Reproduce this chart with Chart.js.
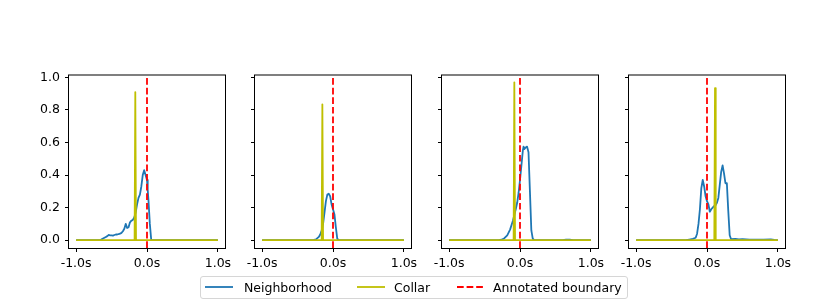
<!DOCTYPE html>
<html>
<head>
<meta charset="utf-8">
<script src="https://cdn.jsdelivr.net/npm/chart.js@4.4.1/dist/chart.umd.min.js"></script>
<style>
  body { margin: 0; background: #fff; width: 830px; height: 305px; position: relative; overflow: hidden; font-family: 'DejaVu Sans', sans-serif; }
  .panel { position: absolute; top: 63px; width: 215px; height: 210px; }
  .legend { position: absolute; left: 200px; top: 276px; width: 428px; height: 23px; border: 1px solid #d6d6d6; border-radius: 3px; box-sizing: border-box; }
  .item { position: absolute; top: 280px; font-size: 12.5px; line-height: 15px; color: #000; white-space: nowrap; }
  .handle { position: absolute; top: 284px; }
</style>
</head>
<body>
<div class="panel" style="left:24px"><canvas id="p0" width="215" height="210"></canvas></div>
<div class="panel" style="left:210px"><canvas id="p1" width="215" height="210"></canvas></div>
<div class="panel" style="left:397px"><canvas id="p2" width="215" height="210"></canvas></div>
<div class="panel" style="left:584px"><canvas id="p3" width="215" height="210"></canvas></div>

<div class="legend"></div>
<svg class="handle" style="left:205px" width="28" height="6"><line x1="0" y1="3" x2="28" y2="3" stroke="#1f77b4" stroke-width="1.8"/></svg>
<span class="item" style="left:244px">Neighborhood</span>
<svg class="handle" style="left:357px" width="28" height="6"><line x1="0" y1="3" x2="28" y2="3" stroke="#bfbf00" stroke-width="1.8"/></svg>
<span class="item" style="left:394px">Collar</span>
<svg class="handle" style="left:457px" width="28" height="6"><line x1="0" y1="3" x2="28" y2="3" stroke="#ff0000" stroke-width="1.8" stroke-dasharray="6.7 2.9"/></svg>
<span class="item" style="left:493px">Annotated boundary</span>

<script>
// axis ticks
const xTicks = [-1, 0, 1];
const xTickLabels = ['-1.0s', '0.0s', '1.0s'];
const yTicks = [0, 0.2, 0.4, 0.6, 0.8, 1.0];
const xMin = -1.1, xMax = 1.1, yMin = -0.048, yMax = 1.012;

// annotated boundary position per panel
const boundaries = [0, 0, 0, 0];

// neighborhood curves
const neighborhood1Times = [-1, -0.66, -0.64, -0.62, -0.60, -0.58, -0.56, -0.54, -0.52, -0.50, -0.48, -0.46, -0.44, -0.42, -0.40, -0.38, -0.36, -0.34, -0.32, -0.30, -0.28, -0.26, -0.24, -0.22, -0.20, -0.18, -0.16, -0.14, -0.12, -0.10, -0.08, -0.06, -0.04, -0.02, 0.00, 0.01, 0.02, 0.04, 0.06, 1];
const neighborhood1Values = [0, 0, 0.005, 0.01, 0.015, 0.02, 0.025, 0.032, 0.03, 0.03, 0.028, 0.032, 0.035, 0.035, 0.038, 0.04, 0.045, 0.055, 0.07, 0.10, 0.075, 0.08, 0.11, 0.12, 0.125, 0.14, 0.17, 0.22, 0.26, 0.28, 0.33, 0.40, 0.43, 0.40, 0.37, 0.31, 0.25, 0.10, 0, 0];

const neighborhood2Times = [-1, -0.28, -0.24, -0.20, -0.18, -0.16, -0.14, -0.12, -0.10, -0.08, -0.06, -0.04, -0.02, 0.00, 0.02, 0.04, 0.06, 0.08, 1];
const neighborhood2Values = [0, 0, 0.005, 0.02, 0.035, 0.06, 0.10, 0.17, 0.24, 0.28, 0.285, 0.27, 0.22, 0.19, 0.16, 0.08, 0.01, 0, 0];

const neighborhood3Times = [-1, -0.30, -0.26, -0.22, -0.18, -0.14, -0.10, -0.08, -0.06, -0.04, -0.02, 0.00, 0.02, 0.04, 0.05, 0.06, 0.08, 0.10, 0.12, 0.14, 0.16, 0.18, 0.20, 0.60, 0.65, 0.70, 0.75, 1];
const neighborhood3Values = [0, 0, 0.003, 0.012, 0.03, 0.065, 0.12, 0.155, 0.19, 0.23, 0.29, 0.37, 0.46, 0.55, 0.575, 0.56, 0.57, 0.575, 0.54, 0.30, 0.06, 0.01, 0, 0, 0.004, 0.004, 0, 0];

const neighborhood4Times = [-1, -0.30, -0.25, -0.20, -0.16, -0.14, -0.12, -0.10, -0.08, -0.06, -0.04, -0.02, 0.00, 0.02, 0.04, 0.06, 0.08, 0.10, 0.12, 0.14, 0.16, 0.18, 0.20, 0.22, 0.24, 0.26, 0.28, 0.30, 0.32, 0.34, 0.40, 0.45, 0.50, 0.60, 0.70, 0.80, 0.90, 0.95, 1];
const neighborhood4Values = [0, 0, 0.004, 0.008, 0.015, 0.04, 0.10, 0.19, 0.32, 0.37, 0.33, 0.27, 0.24, 0.22, 0.175, 0.19, 0.20, 0.21, 0.215, 0.23, 0.26, 0.34, 0.42, 0.46, 0.41, 0.35, 0.35, 0.18, 0.03, 0.006, 0.008, 0.005, 0.007, 0.004, 0.003, 0.003, 0.005, 0.002, 0];

// collar spikes
const collar1Times = [-1, -0.175, -0.165, -0.155, 1];
const collar1Values = [0, 0, 0.91, 0, 0];
const collar2Times = [-1, -0.16, -0.15, -0.14, 1];
const collar2Values = [0, 0, 0.835, 0, 0];
const collar3Times = [-1, -0.09, -0.08, -0.07, 1];
const collar3Values = [0, 0, 0.97, 0, 0];
const collar4Times = [-1, 0.103, 0.113, 0.123, 1];
const collar4Values = [0, 0, 0.935, 0, 0];

const neighborhoodTimes = [neighborhood1Times, neighborhood2Times, neighborhood3Times, neighborhood4Times];
const neighborhoodValues = [neighborhood1Values, neighborhood2Values, neighborhood3Values, neighborhood4Values];
const collarTimes = [collar1Times, collar2Times, collar3Times, collar4Times];
const collarValues = [collar1Values, collar2Values, collar3Values, collar4Values];

Chart.defaults.font.family = "'DejaVu Sans', sans-serif";
Chart.defaults.font.size = 12.5;
Chart.defaults.color = '#000';

function toPoints(xs, ys) {
  return xs.map((x, i) => ({ x: x, y: ys[i] }));
}

// matplotlib style box round the plot area
const framePlugin = {
  id: 'frame',
  afterDatasetsDraw(chart) {
    const { ctx, chartArea: a } = chart;
    ctx.save();
    ctx.strokeStyle = '#000';
    ctx.lineWidth = 1;
    ctx.strokeRect(a.left - 0.5, a.top - 0.5, a.right - a.left + 1, a.bottom - a.top + 1);
    ctx.restore();
  }
};

const tickGrid = { drawOnChartArea: false, drawTicks: true, tickLength: 4, color: '#000', lineWidth: 1 };

for (let i = 0; i < 4; i++) {
  const showY = i === 0;
  new Chart(document.getElementById('p' + i), {
    type: 'line',
    data: {
      datasets: [
        {
          label: 'Annotated boundary',
          data: [{ x: boundaries[i], y: yMin }, { x: boundaries[i], y: yMax }],
          borderColor: '#ff0000', borderWidth: 1.8, borderDash: [6.7, 2.9],
          pointRadius: 0, order: 0
        },
        {
          label: 'Collar',
          data: toPoints(collarTimes[i], collarValues[i]),
          borderColor: '#bfbf00', borderWidth: 1.8, borderJoinStyle: 'round',
          pointRadius: 0, order: 1
        },
        {
          label: 'Neighborhood',
          data: toPoints(neighborhoodTimes[i], neighborhoodValues[i]),
          borderColor: '#1f77b4', borderWidth: 1.8, borderJoinStyle: 'round',
          pointRadius: 0, order: 2
        }
      ]
    },
    options: {
      responsive: false,
      animation: false,
      events: [],
      layout: { padding: { left: 0, top: 12, right: 14, bottom: 0 } },
      plugins: { legend: { display: false }, tooltip: { enabled: false } },
      elements: { line: { tension: 0, fill: false } },
      scales: {
        x: {
          type: 'linear', min: xMin, max: xMax,
          afterBuildTicks: s => { s.ticks = xTicks.map(v => ({ value: v })); },
          afterFit: s => { s.height = 25; },
          grid: tickGrid,
          border: { display: false },
          ticks: {
            padding: 4, maxRotation: 0, autoSkip: false,
            callback: v => xTickLabels[xTicks.indexOf(v)]
          }
        },
        y: {
          type: 'linear', min: yMin, max: yMax,
          afterBuildTicks: s => { s.ticks = yTicks.map(v => ({ value: v })); },
          afterFit: s => { s.width = 45; },
          grid: tickGrid,
          border: { display: false },
          ticks: {
            padding: 5,
            callback: v => showY ? v.toFixed(1) : ''
          }
        }
      }
    },
    plugins: [framePlugin]
  });
}
</script>
</body>
</html>
